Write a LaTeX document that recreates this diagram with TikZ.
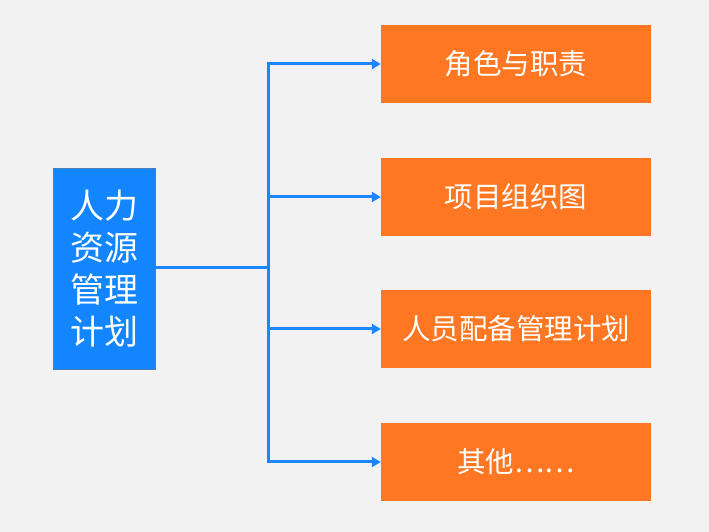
\documentclass[tikz,border=0pt]{standalone}
\usepackage{fontspec}
\newfontfamily\cjk{Noto Sans CJK SC}
\usetikzlibrary{arrows.meta}
\definecolor{bg}{HTML}{F2F2F2}
\definecolor{bluefill}{HTML}{1385FF}
\definecolor{blueedge}{HTML}{4A7FB5}
\definecolor{orangefill}{HTML}{FF7722}
\definecolor{linkblue}{HTML}{1A86FF}
\tikzset{
  x=1pt, y=1pt,
  mainbox/.style={draw=blueedge, line width=0.8pt, fill=bluefill, minimum width=102pt, minimum height=201pt, inner sep=0pt, text=white, font=\cjk\fontsize{34}{42}\selectfont, align=center},
  subbox/.style={fill=orangefill, minimum width=270pt, minimum height=78pt, inner sep=0pt, text=white, font=\cjk\fontsize{28.5}{32}\selectfont},
  link/.style={draw=linkblue, line width=3pt},
  linkarrow/.style={link, -{Triangle[length=9pt, width=10pt]}}
}
\begin{document}
\begin{tikzpicture}
\fill[bg] (0,0) rectangle (709,532);
\useasboundingbox (0,0) rectangle (709,532);
\node[mainbox] (main) at (104,263.5) {人力\\资源\\管理\\计划};
\node[subbox] (s1) at (516,468) {角色与职责};
\node[subbox] (s2) at (516,335) {项目组织图};
\node[subbox] (s3) at (516,203) {人员配备管理计划};
\node[subbox] (s4) at (516,70) {其他……};
\coordinate (j) at (268,264);
\coordinate (t) at (268,468);
\coordinate (b) at (268,70);
\draw[link] (main.east |- j) -- (j);
\draw[link] (268,469.5) -- (268,68.5);
\draw[linkarrow] (t) -- (s1.west);
\draw[linkarrow] (268,335) coordinate (c2) -- (s2.west);
\draw[linkarrow] (268,203) coordinate (c3) -- (s3.west);
\draw[linkarrow] (b) -- (s4.west);
\end{tikzpicture}
\end{document}
